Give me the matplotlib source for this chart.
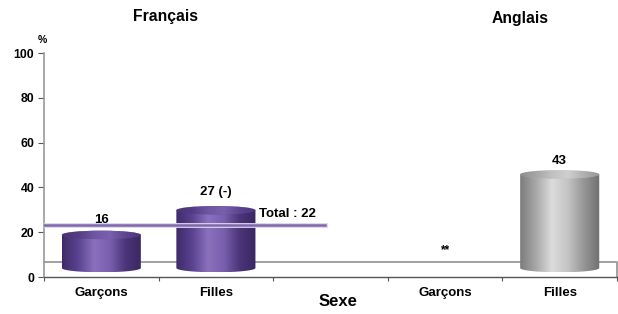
import numpy as np
import matplotlib
matplotlib.use("Agg")
import matplotlib.pyplot as plt
from matplotlib.patches import Ellipse, Polygon
from matplotlib.colors import LinearSegmentedColormap

plt.rcParams['font.family'] = ['Liberation Sans', 'DejaVu Sans']
plt.rcParams['font.weight'] = 'bold'

# ---- data ----
categories = ["Garçons", "Filles", "", "Garçons", "Filles"]
values = [16, 27, None, None, 43]
value_labels = ["16", "27 (-)", "", "**", "43"]
groups = ["Français", "Anglais"]
total_fr = 22
yticks = [0, 20, 40, 60, 80, 100]

# ---- style ----
purple = LinearSegmentedColormap.from_list(
    "purple", ["#3f2a68", "#5a4290", "#8b70bd", "#7a5fae", "#4b3479", "#3a2760"])
grey = LinearSegmentedColormap.from_list(
    "grey", ["#7c7c7c", "#a8a8a8", "#dcdcdc", "#c4c4c4", "#969696", "#707070"])
base = 4.0      # 3d floor offset (bottom ellipse centre)
lift = 2.8      # 3d offset for the top
ew = 0.69       # cylinder width
eh = 3.8        # ellipse height (data units)

fig = plt.figure(figsize=(6.18, 3.14), dpi=100)
ax = fig.add_axes([44/618, 1-277/314, 573/618, 224/314])
ax.set_xlim(-0.5, 4.5)
ax.set_ylim(0, 100)


def cylinder(x, v, cmap, top_col, z=3):
    y0, y1 = base, v + lift
    body = Polygon([(x-ew/2, y1), (x-ew/2, y0)] +
                   [(x + ew/2*np.cos(t), y0 - eh/2*np.sin(t)) for t in np.linspace(np.pi, 0, 30)][1:-1] +
                   [(x+ew/2, y0), (x+ew/2, y1)], closed=True, fc='none', ec='none')
    ax.add_patch(body)
    grad = np.linspace(0, 1, 256).reshape(1, -1)
    im = ax.imshow(grad, cmap=cmap, aspect='auto', extent=(x-ew/2, x+ew/2, y0-eh/2, y1),
                   zorder=z, interpolation='bicubic')
    im.set_clip_path(body)
    top = Ellipse((x, y1), ew, eh, fc=top_col, ec='none', zorder=z+0.1)
    ax.add_patch(top)
    tgrad = ax.imshow(grad[:, ::-1], cmap=cmap, aspect='auto', alpha=0.6,
                      extent=(x-ew/2, x+ew/2, y1-eh/2, y1+eh/2), zorder=z+0.2)
    tgrad.set_clip_path(top)


# floor line
ax.plot([-0.5, 4.5, 4.5], [6.7, 6.7, 0], color='#9a9a9a', lw=1.3, zorder=2, clip_on=False)

for i, v in enumerate(values):
    if v is None:
        continue
    if i < 2:
        cylinder(i, v, purple, '#5f4894')
    else:
        cylinder(i, v, grey, '#bdbdbd')

# total line
ax.plot([-0.5, 1.95], [total_fr+1.3, total_fr+1.3], color='#ddd5ea', lw=3.5, zorder=5)
ax.plot([-0.5, 1.95], [total_fr+1.3, total_fr+1.3], color='#8068ae', lw=1.8, zorder=6)
ax.text(1.62, total_fr+6, "Total : %d" % total_fr, fontsize=9.5, ha='center', va='center', zorder=7)

# value labels
label_y = [25.5, 38, None, 12, 52]
for i, lab in enumerate(value_labels):
    if lab:
        ax.text(i, label_y[i], lab, ha='center', va='center', fontsize=9.5 if lab != "**" else 8.5)

# axes
ax.set_yticks(yticks)
ax.set_yticklabels([str(t) for t in yticks], fontsize=8.8)
ax.set_xticks(np.arange(-0.5, 4.6, 1.0))
ax.set_xticklabels([])
ax.tick_params(axis='y', length=4, width=0.8, color='#555555', pad=3)
ax.tick_params(axis='x', length=3, width=0.8, color='#555555')
for i, c in enumerate(categories):
    ax.text(i, -7, c, ha='center', va='center', fontsize=9.5)
for s in ['top', 'right']:
    ax.spines[s].set_visible(False)
ax.spines['left'].set_color('#9a9a9a')
ax.spines['left'].set_linewidth(1.2)
ax.spines['bottom'].set_color('#555555')
ax.spines['bottom'].set_linewidth(1.0)

fig.text(166/618, 1-17/314, groups[0], ha='center', va='center', fontsize=11.3)
fig.text(520/618, 1-19/314, groups[1], ha='center', va='center', fontsize=11.3)
fig.text(42/618, 1-40/314, "%", ha='center', va='center', fontsize=7.5)
fig.text(338/618, 1-302/314, "Sexe", ha='center', va='center', fontsize=12)

fig.savefig("out.png", dpi=100)
